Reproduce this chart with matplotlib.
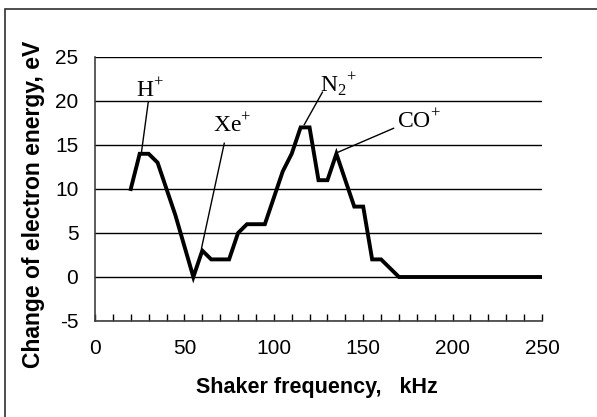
import numpy as np
import matplotlib.pyplot as plt
from matplotlib.patches import Rectangle

# shaker frequency (kHz) and change of electron energy (eV)
freq = [20, 25, 30, 35, 40, 45, 50, 55, 60, 65, 70, 75, 80, 85, 90, 95,
        100, 105, 110, 115, 120, 125, 130, 135, 140, 145, 150, 155, 160,
        165, 170, 180, 190, 200, 210, 220, 230, 240, 250]
energy = [10, 14, 14, 13, 10, 7, 3.5, 0, 3, 2, 2, 2, 5, 6, 6, 6,
          9, 12, 14, 17, 17, 11, 11, 14, 11, 8, 8, 2, 2,
          1, 0, 0, 0, 0, 0, 0, 0, 0, 0]

# peak labels: text, text position, leader start, leader end
ion_labels = ["H$^{+}$", "Xe$^{+}$", "N$_{2}$$^{+}$", "CO$^{+}$"]
label_xy = [(31, 21.2), (76.5, 17.2), (136, 21.9), (181, 17.7)]
leader_from = [(29.8, 19.9), (72.3, 15.2), (127.2, 21.0), (167, 16.9)]
leader_to = [(26, 14.2), (59.6, 3.3), (117, 17.3), (135, 14.1)]

plt.rcParams['font.family'] = ['Liberation Sans', 'DejaVu Sans']
plt.rcParams['axes.unicode_minus'] = False
plt.rcParams['mathtext.fontset'] = 'custom'
plt.rcParams['mathtext.rm'] = 'Liberation Serif'

fig = plt.figure(figsize=(5.97, 4.17), dpi=100)
ax = fig.add_axes([95/597, 1-321/417, 447/597, 264/417])

ax.set_xlim(0, 250)
ax.set_ylim(-5, 25)
ax.set_yticks(np.arange(-5, 26, 5))
ax.set_xticks(np.arange(0, 251, 50))
ax.set_xticks(np.arange(0, 251, 10), minor=True)
ax.yaxis.grid(True, color='k', lw=1)
ax.set_axisbelow(True)

for s in ['top', 'right']:
    ax.spines[s].set_visible(False)
for s in ['left', 'bottom']:
    ax.spines[s].set_color('#404040')
    ax.spines[s].set_linewidth(1.2)

ax.tick_params(axis='x', which='both', direction='in', length=5, width=1,
               pad=13, labelsize=15)
ax.tick_params(axis='y', length=0, pad=12, labelsize=15)

ax.plot(freq, energy, color='k', lw=2.8, solid_joinstyle='miter')

for t, xy, p0, p1 in zip(ion_labels, label_xy, leader_from, leader_to):
    ax.plot([p0[0], p1[0]], [p0[1], p1[1]], color='k', lw=1)
    ax.text(xy[0], xy[1], t, family='Liberation Serif', fontsize=17,
            ha='center', va='center')

fig.text(0.531, 1-388/417, "Shaker frequency,   kHz", fontsize=15.5,
         fontweight='bold', ha='center', va='center')
fig.text(34/597, 1-204/417, "Change of electron energy, eV", fontsize=16.5,
         fontweight='bold', ha='center', va='center', rotation=90)

fig.patches.append(Rectangle((5/597, -0.1), 1.2, 1.1 - 8.5/417,
                             transform=fig.transFigure, fill=False,
                             edgecolor='#303030', lw=1.2))

fig.savefig('out.png', dpi=100)
